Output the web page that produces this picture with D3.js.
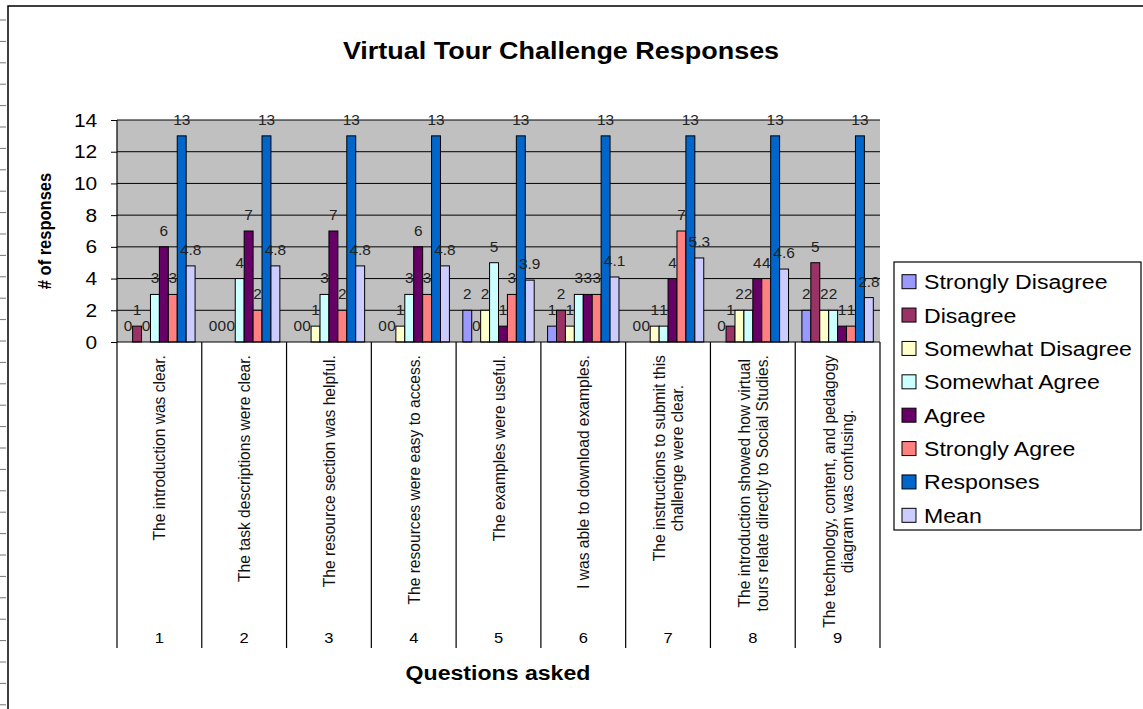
<!DOCTYPE html>
<html>
<head>
<meta charset="utf-8">
<script src="https://cdn.jsdelivr.net/npm/d3@7"></script>
<style>
  body { margin: 0; background: #fff; }
  text { font-family: "Liberation Sans", Arial, sans-serif; }
</style>
</head>
<body>
<svg id="chart" width="1143" height="709"></svg>
<script>
// question numbers shown under each group
const questionNumbers = ['1', '2', '3', '4', '5', '6', '7', '8', '9'];

// question text, one entry per line of the rotated label
const questionTexts = [
  ['The introduction was clear.'],
  ['The task descriptions were clear.'],
  ['The resource section was helpful.'],
  ['The resources were easy to access.'],
  ['The examples were useful.'],
  ['I was able to download examples.'],
  ['The instructions to submit this', 'challenge were clear.'],
  ['The introduction showed how virtual', 'tours relate directly to Social Studies.'],
  ['The technology, content, and pedagogy', 'diagram was confusing.']
];

const seriesNames = ['Strongly Disagree', 'Disagree', 'Somewhat Disagree', 'Somewhat Agree',
  'Agree', 'Strongly Agree', 'Responses', 'Mean'];

// values per series, in question order
const stronglyDisagree = [0, 0, 0, 0, 2, 1, 0, 0, 2];
const disagree = [1, 0, 0, 0, 0, 2, 0, 1, 5];
const somewhatDisagree = [0, 0, 1, 1, 2, 1, 1, 2, 2];
const somewhatAgree = [3, 4, 3, 3, 5, 3, 1, 2, 2];
const agree = [6, 7, 7, 6, 1, 3, 4, 4, 1];
const stronglyAgree = [3, 2, 2, 3, 3, 3, 7, 4, 1];
const responses = [13, 13, 13, 13, 13, 13, 13, 13, 13];
const mean = [4.8, 4.8, 4.8, 4.8, 3.9, 4.1, 5.3, 4.6, 2.8];

const yTicks = [0, 2, 4, 6, 8, 10, 12, 14];

const seriesValues = [stronglyDisagree, disagree, somewhatDisagree, somewhatAgree,
  agree, stronglyAgree, responses, mean];

// old excel palette
const color = d3.scaleOrdinal()
  .domain(seriesNames)
  .range(['#9999FF', '#993366', '#FFFFCC', '#CCFFFF', '#660066', '#FF8080', '#0066CC', '#CCCCFF']);

const svg = d3.select('#chart');

// the picture is a bit wider than tall, so text is stretched sideways
const SX = 1.1;
const place = (x, y, rot) => `translate(${x},${y}) scale(${SX},1)` + (rot ? ' rotate(-90)' : '');

// plot area
const plot = { left: 117, right: 880, top: 120, bottom: 342, tableBottom: 648 };

const x0 = d3.scaleBand()
  .domain(questionNumbers)
  .range([plot.left, plot.right]);

const x1 = d3.scaleBand()
  .domain(seriesNames)
  .range([0, x0.bandwidth()])
  .paddingOuter(0.75);

const y = d3.scaleLinear()
  .domain([0, 14])
  .range([plot.bottom, plot.top]);

// sheet row marks on the far left and the chart border
svg.append('g')
  .selectAll('line')
  .data(d3.range(0, 33))
  .join('line')
    .attr('x1', 0).attr('x2', 6)
    .attr('y1', d => 20 + d * 21.4).attr('y2', d => 20 + d * 21.4)
    .attr('stroke', '#777');
svg.append('path')
  .attr('d', 'M8,709V6H1143')
  .attr('fill', 'none')
  .attr('stroke', '#000')
  .attr('stroke-width', 1.5);

// title
svg.append('text')
  .attr('transform', place(561, 59))
  .attr('text-anchor', 'middle')
  .style('font-size', '24.5px')
  .style('font-weight', 'bold')
  .text('Virtual Tour Challenge Responses');

// gray background + gridlines
svg.append('rect')
  .attr('x', plot.left).attr('y', plot.top)
  .attr('width', plot.right - plot.left).attr('height', plot.bottom - plot.top)
  .attr('fill', '#C0C0C0');

svg.append('g')
  .selectAll('line')
  .data(yTicks.slice(1))
  .join('line')
    .attr('x1', plot.left).attr('x2', plot.right)
    .attr('y1', d => y(d)).attr('y2', d => y(d))
    .attr('stroke', '#000')
    .attr('stroke-width', 1);

// y axis
const yAxis = svg.append('g')
  .attr('transform', `translate(${plot.left},0)`)
  .call(d3.axisLeft(y).tickValues(yTicks).tickSize(6).tickSizeOuter(0).tickPadding(12));
yAxis.select('.domain').remove();
yAxis.selectAll('line').attr('stroke', '#000');
yAxis.selectAll('text')
  .attr('transform', `scale(${SX},1)`)
  .style('font-size', '19px')
  .attr('fill', '#000');

// bars
const groups = svg.append('g')
  .selectAll('g')
  .data(questionNumbers)
  .join('g')
    .attr('transform', d => `translate(${x0(d)},0)`);

groups.selectAll('rect')
  .data((q, i) => seriesNames.map((s, k) => ({ series: s, value: seriesValues[k][i] })))
  .join('rect')
    .attr('x', d => x1(d.series))
    .attr('y', d => y(d.value))
    .attr('width', x1.bandwidth())
    .attr('height', d => y(0) - y(d.value))
    .attr('fill', d => color(d.series))
    .attr('stroke', d => d.value > 0 ? '#000' : 'none')
    .attr('stroke-width', 1);

// value labels on top of every bar
groups.selectAll('text')
  .data((q, i) => seriesNames.map((s, k) => ({ series: s, value: seriesValues[k][i] })))
  .join('text')
    .attr('transform', d => place(x1(d.series) + x1.bandwidth() / 2, y(d.value) - 11))
    .attr('text-anchor', 'middle')
    .style('font-size', '14px')
    .attr('fill', '#222')
    .text(d => d.value);

// category table under the plot
const edges = questionNumbers.map(q => x0(q)).concat([plot.right]);
svg.append('g')
  .selectAll('line')
  .data(edges)
  .join('line')
    .attr('x1', d => d).attr('x2', d => d)
    .attr('y1', (d, i) => i === 0 ? plot.top : plot.bottom)
    .attr('y2', plot.tableBottom)
    .attr('stroke', '#000')
    .attr('stroke-width', 1.2);
svg.append('line')
  .attr('x1', plot.left).attr('x2', plot.right)
  .attr('y1', plot.bottom).attr('y2', plot.bottom)
  .attr('stroke', '#000')
  .attr('stroke-width', 1.2);

svg.append('g')
  .selectAll('text')
  .data(questionNumbers)
  .join('text')
    .attr('transform', d => place(x0(d) + x0.bandwidth() / 2, 643))
    .attr('text-anchor', 'middle')
    .style('font-size', '15px')
    .text(d => d);

// rotated question text, top aligned, lines centred on each other
const lineGap = 18;
questionTexts.forEach((lines, i) => {
  const cx = x0(questionNumbers[i]) + x0.bandwidth() / 2;
  const g = svg.append('g');
  const texts = g.selectAll('text')
    .data(lines)
    .join('text')
      .attr('text-anchor', 'middle')
      .attr('dy', '0.35em')
      .style('font-size', '15.6px')
      .attr('fill', '#111')
      .text(d => d);
  const maxLen = d3.max(texts.nodes(), n => n.getComputedTextLength());
  texts.attr('transform', (d, j) =>
    place(cx + (j - (lines.length - 1) / 2) * lineGap, 355 + maxLen / 2, true));
});

// axis titles
svg.append('text')
  .attr('transform', place(45, 231, true))
  .attr('text-anchor', 'middle')
  .attr('dy', '0.35em')
  .style('font-size', '16.5px')
  .style('font-weight', 'bold')
  .text('# of responses');

svg.append('text')
  .attr('transform', place(498, 680))
  .attr('text-anchor', 'middle')
  .style('font-size', '21px')
  .style('font-weight', 'bold')
  .text('Questions asked');

// legend
const legend = svg.append('g');
legend.append('rect')
  .attr('x', 894).attr('y', 262)
  .attr('width', 247).attr('height', 268)
  .attr('fill', '#fff')
  .attr('stroke', '#000')
  .attr('stroke-width', 1.2);

const legendRow = d3.scaleBand()
  .domain(seriesNames)
  .range([265, 532]);

const items = legend.selectAll('g')
  .data(seriesNames)
  .join('g')
    .attr('transform', d => `translate(0,${legendRow(d) + legendRow.bandwidth() / 2})`);
items.append('rect')
  .attr('x', 902).attr('y', -7)
  .attr('width', 14).attr('height', 14)
  .attr('fill', d => color(d))
  .attr('stroke', '#000');
items.append('text')
  .attr('transform', place(924, 7.5))
  .style('font-size', '21px')
  .text(d => d);
</script>
</body>
</html>
